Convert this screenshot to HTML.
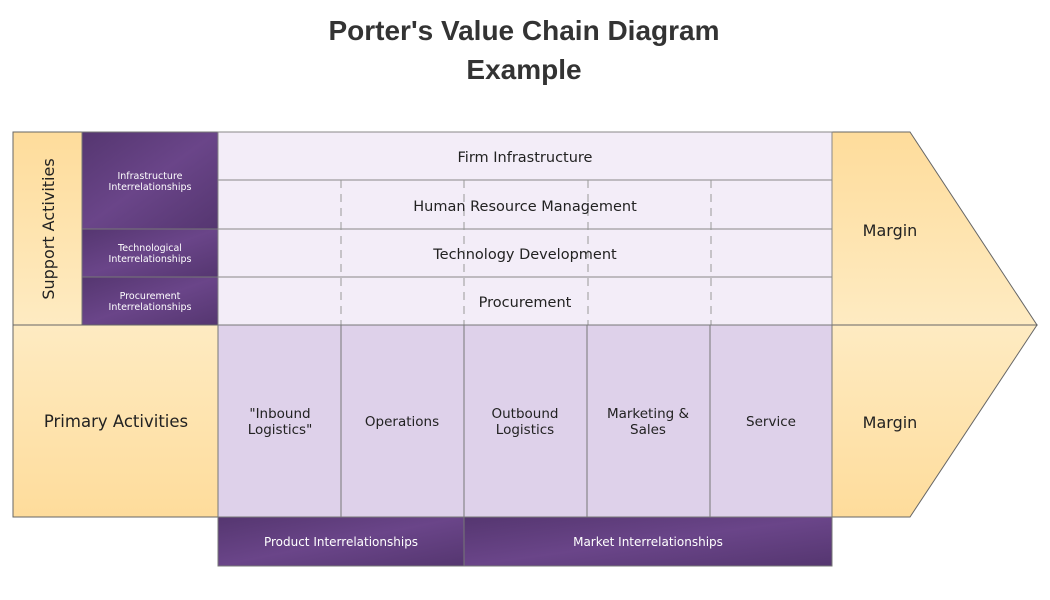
<!DOCTYPE html>
<html><head><meta charset="utf-8"><style>
html,body{margin:0;padding:0;background:#fff;}
svg{display:block;font-family:"DejaVu Sans","Liberation Sans",sans-serif;}
</style></head><body>
<svg width="1050" height="600" viewBox="0 0 1050 600" xmlns="http://www.w3.org/2000/svg">
<defs>
<linearGradient id="pur" x1="0" y1="0" x2="1" y2="1">
<stop offset="0" stop-color="#553670"/><stop offset="0.5" stop-color="#6a4589"/><stop offset="1" stop-color="#553670"/>
</linearGradient>
<linearGradient id="yel1" x1="0" y1="0" x2="0" y2="1">
<stop offset="0" stop-color="#fedc9b"/><stop offset="1" stop-color="#feebc2"/>
</linearGradient>
<linearGradient id="yel2" x1="0" y1="0" x2="0" y2="1">
<stop offset="0" stop-color="#feebc2"/><stop offset="1" stop-color="#fedc9b"/>
</linearGradient>
</defs>
<g font-family="Liberation Sans, sans-serif" font-size="28" font-weight="bold" fill="#333" text-anchor="middle">
<text x="524" y="40">Porter's Value Chain Diagram</text>
<text x="524" y="79">Example</text>
</g>

<polygon points="832,132 910,132 1037,325 832,325" fill="url(#yel1)" stroke="#666"/>
<polygon points="832,325 1037,325 910,517 832,517" fill="url(#yel2)" stroke="#666"/>
<text x="890" y="236" text-anchor="middle" font-size="16" fill="#222">Margin</text>
<text x="890" y="428" text-anchor="middle" font-size="16" fill="#222">Margin</text>

<rect x="13" y="132" width="69" height="193" fill="url(#yel1)" stroke="#666"/>
<text transform="translate(54,229) rotate(-90)" text-anchor="middle" font-size="16" fill="#222">Support Activities</text>
<rect x="82" y="132" width="136" height="97" fill="url(#pur)" stroke="#777"/>
<rect x="82" y="229" width="136" height="48" fill="url(#pur)" stroke="#777"/>
<rect x="82" y="277" width="136" height="48" fill="url(#pur)" stroke="#777"/>
<g fill="#fff" font-size="9.5" text-anchor="middle">
<text x="150" y="179">Infrastructure</text><text x="150" y="190">Interrelationships</text>
<text x="150" y="251">Technological</text><text x="150" y="262">Interrelationships</text>
<text x="150" y="299">Procurement</text><text x="150" y="310">Interrelationships</text>
</g>
<rect x="218" y="132" width="614" height="193" fill="#f3edf8" stroke="#888"/>
<g stroke="#888"><line x1="218" y1="180" x2="832" y2="180"/><line x1="218" y1="229" x2="832" y2="229"/><line x1="218" y1="277" x2="832" y2="277"/></g>
<g stroke="#999" stroke-dasharray="8,6">
<line x1="341" y1="180" x2="341" y2="325"/><line x1="464" y1="180" x2="464" y2="325"/>
<line x1="588" y1="180" x2="588" y2="325"/><line x1="711" y1="180" x2="711" y2="325"/>
</g>
<g font-size="14.5" fill="#222" text-anchor="middle">
<text x="525" y="162">Firm Infrastructure</text>
<text x="525" y="211">Human Resource Management</text>
<text x="525" y="259">Technology Development</text>
<text x="525" y="307">Procurement</text>
</g>

<rect x="13" y="325" width="205" height="192" fill="url(#yel2)" stroke="#666"/>
<text x="116" y="427" text-anchor="middle" font-size="16.5" fill="#222">Primary Activities</text>
<rect x="218" y="325" width="614" height="192" fill="#ded1ea" stroke="#777"/>
<g stroke="#777"><line x1="341" y1="325" x2="341" y2="517"/><line x1="464" y1="325" x2="464" y2="517"/><line x1="587" y1="325" x2="587" y2="517"/><line x1="710" y1="325" x2="710" y2="517"/></g>
<g font-size="13.5" fill="#222" text-anchor="middle">
<text x="280" y="418">"Inbound</text><text x="280" y="434">Logistics"</text>
<text x="402" y="426">Operations</text>
<text x="525" y="418">Outbound</text><text x="525" y="434">Logistics</text>
<text x="648" y="418">Marketing &amp;</text><text x="648" y="434">Sales</text>
<text x="771" y="426">Service</text>
</g>

<rect x="218" y="517" width="246" height="49" fill="url(#pur)" stroke="#777"/>
<rect x="464" y="517" width="368" height="49" fill="url(#pur)" stroke="#777"/>
<text x="341" y="546" text-anchor="middle" font-size="12" fill="#fff">Product Interrelationships</text>
<text x="648" y="546" text-anchor="middle" font-size="12" fill="#fff">Market Interrelationships</text>
</svg>
</body></html>
